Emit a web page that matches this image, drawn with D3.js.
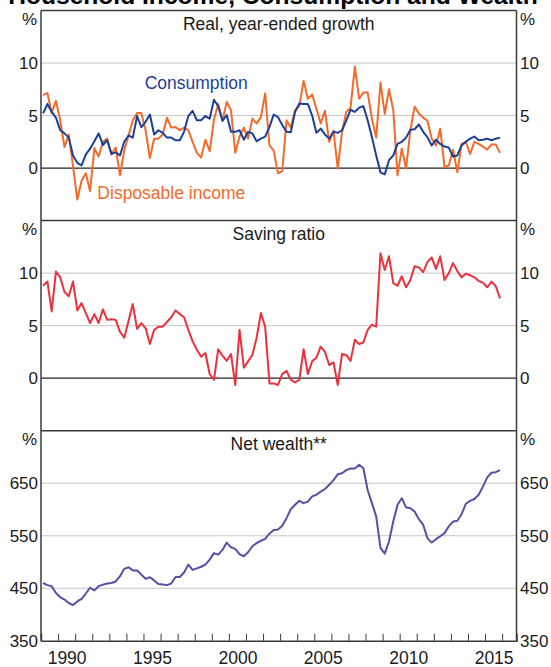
<!DOCTYPE html>
<html>
<head>
<meta charset="utf-8">
<script src="https://cdn.jsdelivr.net/npm/d3@7"></script>
<style>
  body { margin: 0; background: #fff; }
  svg { display: block; font-family: "Liberation Sans", Arial, sans-serif; }
</style>
</head>
<body>
<svg width="551" height="667"></svg>
<script>
// quarterly data, 1989 Q1 to 2015 Q4
const startYear = 1989;

// real, year-ended growth, %
const consumption = [
  5.2, 6.1, 5.35, 4.8, 3.6, 3.3, 2.9, 1.2, 0.5, 0.25,
  1.3, 1.85, 2.55, 3.3, 2.2, 2.65, 1.35, 1.5, 1.2, 2.5,
  3.1, 2.9, 4.95, 3.9, 4.4, 5.1, 3.2, 3.6, 3.35, 2.9,
  2.9, 2.65, 2.65, 3.45, 4.95, 5.45, 4.55, 4.55, 4.95, 4.7,
  6.5, 5.9, 4.5, 5.05, 3.45, 3.45, 3.6, 2.7, 3.45, 3.3,
  2.55, 2.8, 3.0, 3.9, 5.1, 4.85, 4.1, 3.45, 3.4, 5.35,
  6.15, 6.1, 6.1, 5.0, 3.35, 3.75, 3.2, 2.8, 3.45, 3.35,
  3.6, 4.55, 5.55, 5.35, 5.75, 5.9, 4.55, 2.95, 1.2, -0.4,
  -0.6, 0.75, 1.2, 2.3, 2.5, 2.9, 3.65, 3.7, 4.15, 3.45,
  2.95, 2.15, 2.7, 2.3, 2.05, 1.95, 1.1, 1.2, 2.15, 2.5,
  2.8, 3.0, 2.65, 2.7, 2.8, 2.65, 2.8, 2.9
];
const disposableIncome = [
  6.95, 7.15, 5.25, 6.4, 4.55, 2.0, 3.2, 0.2, -3.0, -1.2,
  -0.5, -2.2, 1.9, 1.1, 2.5, 2.8, 1.3, 1.95, -0.7, 1.7,
  3.1, 4.55, 5.25, 5.25, 3.6, 0.95, 2.8, 2.8, 3.2, 4.8,
  3.85, 3.9, 3.6, 3.85, 3.6, 2.5, 1.45, 1.0, 2.7, 1.6,
  4.6, 6.1, 4.5, 6.3, 5.5, 1.45, 3.0, 3.85, 2.8, 4.7,
  4.25, 4.85, 7.1, 2.15, 1.65, -0.5, -0.3, 4.55, 3.85, 5.5,
  5.9, 8.3, 6.6, 7.0, 5.65, 4.25, 5.45, 2.5, 3.55, -0.05,
  3.45, 5.35, 5.75, 9.65, 6.6, 7.2, 7.2, 4.7, 2.9, 8.15,
  5.15, 7.5, 5.5, -0.7, 1.85, -0.05, 3.6, 5.85, 5.2, 4.8,
  4.5, 2.8, 2.15, 3.75, 0.1, 0.25, 1.75, -0.4, 2.3, 2.5,
  1.35, 2.5, 2.3, 2.05, 1.75, 2.25, 2.25, 1.45
];
// saving ratio, %
const savingRatio = [
  8.8, 9.2, 6.35, 10.15, 9.6, 8.2, 7.8, 9.2, 6.45, 7.15,
  6.2, 5.25, 6.1, 5.25, 6.55, 5.55, 5.6, 5.55, 4.4, 3.85,
  5.45, 7.05, 4.7, 5.25, 4.75, 3.25, 4.6, 4.9, 4.9, 5.35,
  5.8, 6.45, 6.1, 5.8, 4.6, 3.5, 2.7, 2.05, 2.4, 0.4,
  -0.15, 2.75, 2.15, 1.65, 2.3, -0.65, 4.6, 1.0, 1.6, 2.2,
  3.85, 6.2, 4.9, -0.5, -0.5, -0.65, 0.4, 0.7, -0.15, -0.4,
  -0.15, 2.75, 0.4, 1.6, 1.95, 3.0, 2.5, 1.25, 1.5, -0.65,
  2.3, 2.2, 1.65, 3.65, 3.25, 3.4, 4.6, 5.1, 4.9, 11.9,
  10.3, 11.6, 9.05, 8.8, 9.7, 8.65, 9.35, 10.65, 10.55, 10.1,
  11.05, 11.5, 10.4, 11.6, 9.35, 10.0, 10.95, 10.2, 9.6, 9.95,
  9.8, 9.6, 9.25, 9.1, 8.65, 9.2, 8.75, 7.6
];
// net wealth, % of disposable income
const netWealth = [
  460, 456, 454, 441, 433, 428.5, 422, 418, 425, 430,
  440, 451, 446, 454, 457, 459, 460, 463, 473, 487,
  490, 484, 484, 476, 468, 471, 465, 458, 457, 456,
  459, 471.5, 471.5, 480, 495, 485, 488, 491, 495, 504.5,
  517, 514, 523, 537, 528, 525, 515, 511, 518.5, 530,
  536, 540.5, 544, 554, 561, 562, 569, 583.5, 600.5, 609,
  616.5, 612, 615, 625, 628, 634, 639, 647, 656, 667,
  669, 675, 678, 678, 685, 678.5, 637, 612, 587, 527,
  516, 539, 577, 609, 621.5, 604, 602.5, 596, 581.5, 571,
  545.5, 537, 543.5, 549, 555, 568, 577, 578.5, 591, 611,
  616.5, 620, 628, 643.5, 661, 670, 671, 675
];

const xTickYears = d3.range(1990, 2017);
const xLabelYears = [1990, 1995, 2000, 2005, 2010, 2015];
const growthTicks = [0, 5, 10];
const savingTicks = [0, 5, 10];
const wealthTicks = [350, 450, 550, 650];

const dates = consumption.map((d, i) => startYear + (i + 0.5) / 4);

const blue = "#1d3f95", orange = "#f26b2c", red = "#e8323d", purple = "#5b4da6";
const ink = "#1a1a1a", frame = "#3a3a3a", grid = "#c6c6c6";

const svg = d3.select("svg");
const left = 41, right = 516.5, top0 = 10.5, panelH = 210.1;
const bottom = top0 + 3 * panelH;

const x = d3.scaleLinear().domain([1989, 2016.84]).range([left, right]);

const panels = [
  { title: "Real, year-ended growth", domain: [-5, 15], ticks: growthTicks, zero: true,
    series: [{ values: disposableIncome, color: orange }, { values: consumption, color: blue }] },
  { title: "Saving ratio", domain: [-5, 15], ticks: savingTicks, zero: true,
    series: [{ values: savingRatio, color: red }] },
  { title: "Net wealth**", domain: [350, 750], ticks: wealthTicks, zero: false,
    series: [{ values: netWealth, color: purple }] }
];

// title (cut off at the top in the original)
svg.append("text")
  .attr("x", 273).attr("y", 4)
  .attr("text-anchor", "middle")
  .style("font-size", "24.6px").style("font-weight", "bold")
  .attr("fill", "#000")
  .text("Household Income, Consumption and Wealth");

panels.forEach((p, i) => {
  const top = top0 + i * panelH;
  const y = d3.scaleLinear().domain(p.domain).range([top + panelH, top]);
  const g = svg.append("g");

  // gridlines
  g.selectAll("line.grid")
    .data(p.ticks.filter(t => t > p.domain[0]))
    .enter().append("line")
    .attr("x1", left).attr("x2", right)
    .attr("y1", d => y(d)).attr("y2", d => y(d))
    .attr("stroke", d => (p.zero && d === 0) ? "#222" : grid)
    .attr("stroke-width", d => (p.zero && d === 0) ? 1.2 : 1);

  // axes labels
  const yl = g.append("g").attr("transform", `translate(${left},0)`)
    .call(d3.axisLeft(y).tickValues(p.ticks).tickSize(0).tickPadding(3));
  const yr = g.append("g").attr("transform", `translate(${right},0)`)
    .call(d3.axisRight(y).tickValues(p.ticks).tickSize(0).tickPadding(3.5));
  [yl, yr].forEach(a => {
    a.select(".domain").remove();
    a.selectAll("text").style("font-size", "17px").attr("fill", ink);
  });

  g.append("text").attr("x", 37).attr("y", top + 14)
    .attr("text-anchor", "end").style("font-size", "17px").attr("fill", ink).text("%");
  g.append("text").attr("x", 520).attr("y", top + 14)
    .style("font-size", "17px").attr("fill", ink).text("%");

  g.append("text").attr("x", (left + right) / 2).attr("y", top + 19.5)
    .attr("text-anchor", "middle").style("font-size", "17.5px").attr("fill", ink)
    .text(p.title);

  const line = d3.line().x((d, j) => x(dates[j])).y(d => y(d));
  p.series.forEach(s => {
    g.append("path").datum(s.values)
      .attr("d", line)
      .attr("fill", "none")
      .attr("stroke", s.color)
      .attr("stroke-width", 2)
      .attr("stroke-linejoin", "round");
  });

  if (i === 0) {
    g.append("text").attr("x", x(1995.07)).attr("y", y(7.54))
      .style("font-size", "17.5px").attr("fill", blue).text("Consumption");
    g.append("text").attr("x", x(1992.3)).attr("y", y(-2.9))
      .style("font-size", "17.5px").attr("fill", orange).text("Disposable income");
  }

  // top border of the panel
  svg.append("line")
    .attr("x1", left).attr("x2", right).attr("y1", top).attr("y2", top)
    .attr("stroke", frame).attr("stroke-width", 1.5);
});

// frame sides
[left, right].forEach(xx => {
  svg.append("line")
    .attr("x1", xx).attr("x2", xx).attr("y1", top0).attr("y2", bottom)
    .attr("stroke", frame).attr("stroke-width", 1.5);
});

// bottom axis: year ticks pointing in, labels centred in each year
const xt = svg.append("g").attr("transform", `translate(0,${bottom})`)
  .call(d3.axisBottom(x).tickValues(xTickYears).tickSize(-7).tickFormat(""));
xt.select(".domain").attr("stroke", frame).attr("stroke-width", 1.5);
xt.selectAll(".tick line").attr("stroke", frame).attr("stroke-width", 1);

const xl = svg.append("g").attr("transform", `translate(0,${bottom})`)
  .call(d3.axisBottom(x).tickValues(xLabelYears.map(yy => yy + 0.5))
    .tickSize(0).tickPadding(11).tickFormat(d => Math.floor(d)));
xl.select(".domain").remove();
xl.selectAll("text").style("font-size", "17.5px").attr("fill", ink);
</script>
</body>
</html>
